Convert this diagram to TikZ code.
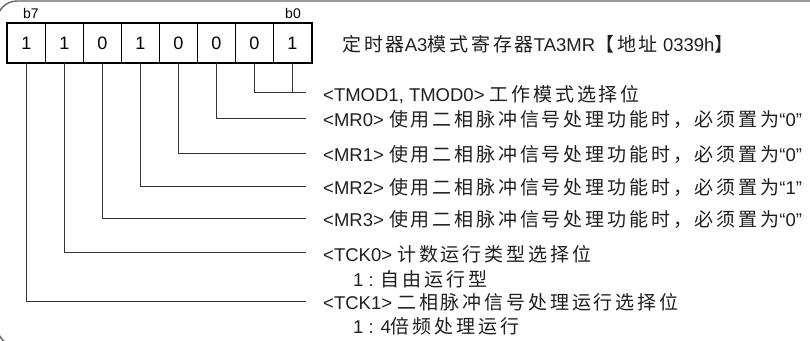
\documentclass[tikz,border=0pt]{standalone}
\usepackage{fontspec}
\setmainfont{Liberation Sans}
\newfontfamily\cjk[Scale=1.027,LetterSpace=15]{Noto Sans CJK SC}
\begin{document}
\begin{tikzpicture}[x=1pt,y=-1pt,
  cell/.style={draw=black,line width=0.9pt,minimum width=38pt,minimum height=39pt,inner sep=0pt,font=\fontsize{18}{20}\selectfont,anchor=north west},
  bitlbl/.style={inner sep=0pt,font=\fontsize{14}{16}\selectfont},
  lbl/.style={anchor=west,inner sep=0pt,font=\fontsize{18.5}{20}\selectfont,text=black!88},
  conn/.style={draw=black!80,line width=0.9pt}]
\useasboundingbox (0,0) rectangle (810,340);
\draw[black!60,line width=1.4pt,rounded corners=20pt] (-3,1) rectangle (850,346);
% cells
\foreach \i/\v [count=\k from 0] in {7/1,6/1,5/0,4/1,3/0,2/0,1/0,0/1}{
  \node[cell] (c\i) at ({7+38*\k},23) {\v};
}
\draw[line width=1.8pt] (c7.north west) rectangle (c0.south east);
\node[bitlbl] (b7) at (31,13) {b7};
\node[bitlbl] (b0) at (293,13) {b0};
% title
\node[lbl] (title) at (342,44) {{\cjk 定时器}A3{\cjk 模式寄存器}TA3MR{\cjk 【地址} 0339h{\cjk 】}};
% line ends
\coordinate (e1) at (306,92);
\coordinate (e2) at (306,118);
\coordinate (e3) at (306,153);
\coordinate (e4) at (306,186);
\coordinate (e5) at (306,218);
\coordinate (e6) at (306,252);
\coordinate (e7) at (306,301);
\draw[conn] (c1.south) |- (e1);
\draw[conn] (c0.south) -- (c0.south |- e1);
\draw[conn] (c2.south) |- (e2);
\draw[conn] (c3.south) |- (e3);
\draw[conn] (c4.south) |- (e4);
\draw[conn] (c5.south) |- (e5);
\draw[conn] (c6.south) |- (e6);
\draw[conn] (c7.south) |- (e7);
% labels
\node[lbl] (t1) at (323,95) {<TMOD1, TMOD0> {\cjk 工作模式选择位}};
\node[lbl] (t2) at (323,120) {<MR0> {\cjk 使用二相脉冲信号处理功能时，必须置为}“0”};
\node[lbl] (t3) at (323,155) {<MR1> {\cjk 使用二相脉冲信号处理功能时，必须置为}“0”};
\node[lbl] (t4) at (323,188) {<MR2> {\cjk 使用二相脉冲信号处理功能时，必须置为}“1”};
\node[lbl] (t5) at (323,220) {<MR3> {\cjk 使用二相脉冲信号处理功能时，必须置为}“0”};
\node[lbl] (t6) at (323,254) {<TCK0> {\cjk 计数运行类型选择位}};
\node[lbl] (t6a) at (353,279) {1 : {\cjk 自由运行型}};
\node[lbl] (t7) at (323,302) {<TCK1> {\cjk 二相脉冲信号处理运行选择位}};
\node[lbl] (t7a) at (353,326) {1 : 4{\cjk 倍频处理运行}};
\end{tikzpicture}
\end{document}
